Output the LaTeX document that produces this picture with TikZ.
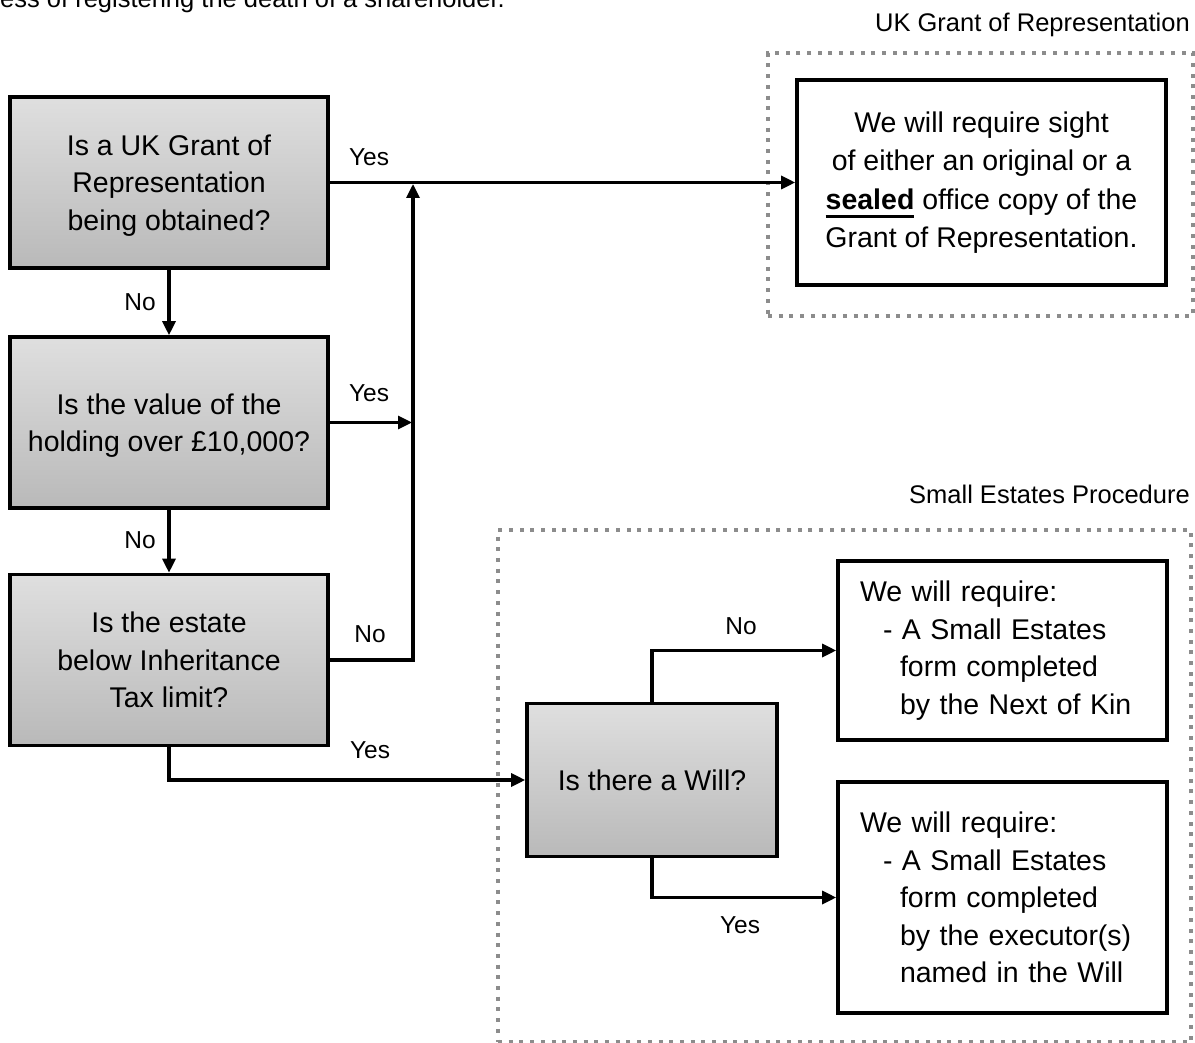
\documentclass[tikz,border=0pt]{standalone}
\usepackage{fontspec}
\setmainfont{Liberation Sans}
\usetikzlibrary{arrows.meta}
\definecolor{boxtop}{HTML}{DFDFDF}
\definecolor{boxbot}{HTML}{B9B9B9}
\definecolor{dotgray}{HTML}{8C8C8C}
\newsavebox\ulsavebox
\newcommand\thickul[1]{\leavevmode\sbox\ulsavebox{#1}\rlap{\rule[-9pt]{\wd\ulsavebox}{3.2pt}}\usebox\ulsavebox}
\newcommand\lowtext[2]{\raisebox{-3pt}[\height][\depth]{\parbox{#1}{\centering #2}}}
\tikzset{
  boxfont/.style={font=\fontsize{28.5}{37.5}\selectfont},
  lblfont/.style={font=\fontsize{24.5}{28}\selectfont},
  qbox/.style={draw=black, line width=3.6pt, top color=boxtop, bottom color=boxbot,
    inner sep=0pt, align=center, boxfont},
  abox/.style={draw=black, line width=3.6pt, fill=white, inner sep=0pt, boxfont},
  frame/.style={draw=dotgray, line width=4pt, dash pattern=on 4pt off 6.7pt, inner sep=0pt},
  arr/.style={line width=3.2pt, -{Triangle[length=14pt,width=13pt]}},
  lbl/.style={lblfont, inner sep=0pt}
}
\begin{document}
\begin{tikzpicture}[x=1pt,y=-1pt]
\useasboundingbox (0,0) rectangle (1195,1043);
% top cut-off text
\node[anchor=base west, inner sep=0pt, font=\fontsize{25.5}{30}\selectfont] (intro) at (0,8) {ess of registering the death of a shareholder.};
% frames
\node[frame, minimum width=425, minimum height=263] (frameA) at (980.5,184.5) {};
\node[frame, minimum width=693, minimum height=512] (frameB) at (844.5,786) {};
\node[lbl, anchor=base east, font=\fontsize{25.5}{30}\selectfont] (titleA) at (1190,32) {UK Grant of Representation};
\node[lbl, anchor=base east, font=\fontsize{25.5}{30}\selectfont] (titleB) at (1190,503) {Small Estates Procedure};
% question boxes
\node[qbox, minimum width=318, minimum height=171] (q1) at (169,182.5) {\lowtext{300pt}{Is a UK Grant of\\Representation\\being obtained?}};
\node[qbox, minimum width=318, minimum height=171] (q2) at (169,422.5) {\lowtext{310pt}{Is the value of the\\holding over £10,000?}};
\node[qbox, minimum width=318, minimum height=171] (q3) at (169,660) {Is the estate\\below Inheritance\\Tax limit?};
\node[qbox, minimum width=250, minimum height=153] (will) at (652,780) {Is there a Will?};
% answer boxes
\node[abox, align=center, minimum width=369, minimum height=205, font=\fontsize{28.5}{38.5}\selectfont] (res) at (981.5,182.5)
  {We will require sight\\of either an original or a\\\thickul{\textbf{sealed}} office copy of the\\Grant of Representation.};
\node[abox, align=left, text width=285, inner xsep=22pt, minimum width=329, minimum height=179] (ra) at (1002.5,650.5)
  {We will require:\\\hspace*{23pt}- A Small Estates\\\hspace*{40pt}form completed\\\hspace*{40pt}by the Next of Kin};
\node[abox, align=left, text width=285, inner xsep=22pt, minimum width=329, minimum height=231] (rb) at (1002.5,897.5)
  {We will require:\\\hspace*{23pt}- A Small Estates\\\hspace*{40pt}form completed\\\hspace*{40pt}by the executor(s)\\\hspace*{40pt}named in the Will};
% junction coordinates
\coordinate (j2) at (412,422.5);
\coordinate (jt) at (413,184);
% connectors
\draw[arr] (q1.east) -- (res.west);
\draw[arr] (q1.south) -- (q2.north);
\draw[arr] (q2.south) -- (q3.north);
\draw[arr] (q2.east) -- (j2);
\draw[arr] (q3.east) -| (jt);
\draw[arr] (q3.south) |- (will.west);
\draw[arr] (will.north) |- (ra.west);
\draw[arr] (will.south) |- (rb.west);
% labels
\node[lbl] (y1) at (369,157) {Yes};
\node[lbl] (n1) at (140,302) {No};
\node[lbl] (y2) at (369,393) {Yes};
\node[lbl] (n2) at (140,540) {No};
\node[lbl] (n3) at (370,634) {No};
\node[lbl] (y3) at (370,750) {Yes};
\node[lbl] (n4) at (741,626) {No};
\node[lbl] (y4) at (740,925) {Yes};
\end{tikzpicture}
\end{document}
